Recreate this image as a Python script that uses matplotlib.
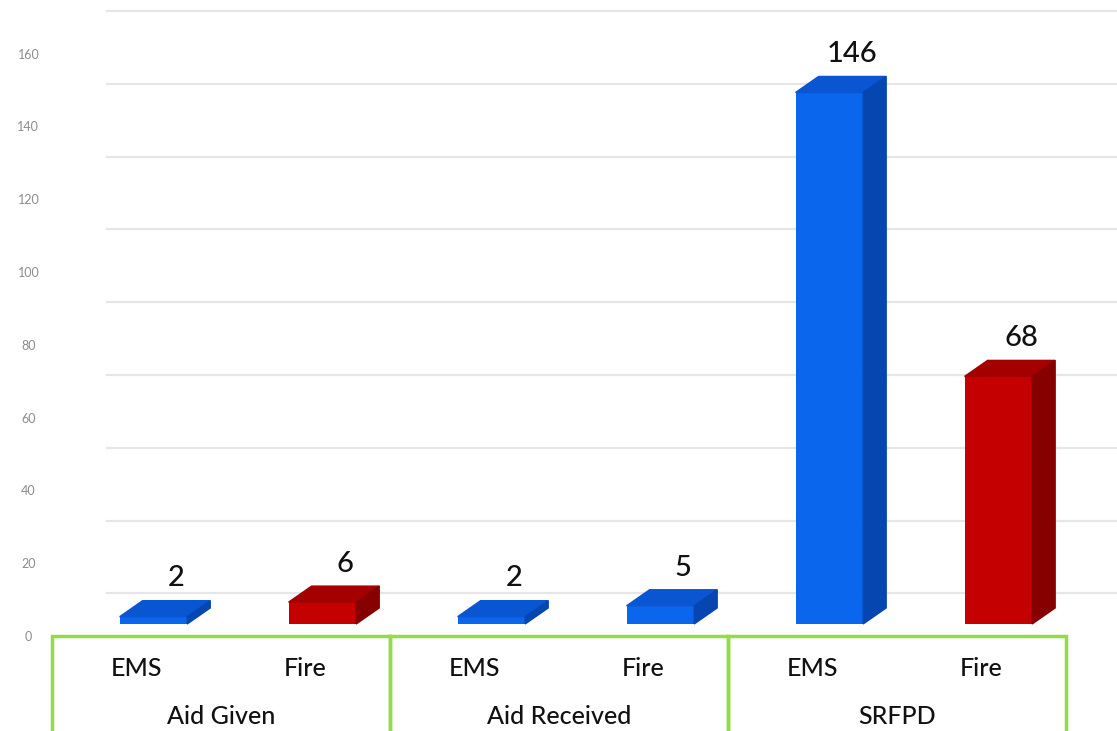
import matplotlib.pyplot as plt
from matplotlib.patches import Polygon, Rectangle

# Call counts by group and call type
groups = ["Aid Given", "Aid Received", "SRFPD"]
call_types = ["EMS", "Fire", "EMS", "Fire", "EMS", "Fire"]
counts = [2, 6, 2, 5, 146, 68]
bar_colors = ["blue", "red", "blue", "blue", "blue", "red"]
y_ticks = [0, 20, 40, 60, 80, 100, 120, 140, 160]

# front / top / side shades for the fake 3D look
shades = {
    "blue": ("#0a66ec", "#0a55d2", "#0646b0"),
    "red": ("#c40000", "#a50000", "#860000"),
}

plt.rcParams["font.family"] = ["Lato", "DejaVu Sans"]

fig = plt.figure(figsize=(11.17, 7.31), dpi=100)
ax = fig.add_axes([0, 0, 1, 1])
ax.set_xlim(-0.808, 5.802)
ax.set_ylim(-29.4, 171.4)
ax.axis("off")

dx, dy = 0.136, 4.4      # depth of the bars
wall = 8.4               # back wall offset for the gridlines
green = "#93dc46"

# gridlines on the back wall
for v in y_ticks:
    ax.plot([-0.175, 5.802], [v + wall, v + wall], color="#e6e6e6", lw=1.6, zorder=0)
    ax.text(-0.64, v - 3.6, str(v), ha="center", va="center",
            fontsize=9, color="#8c8c8c")

for i, (val, col) in enumerate(zip(counts, bar_colors)):
    front, top, side = shades[col]
    x0, x1 = i - 0.1, i + 0.3
    ax.bar(i + 0.1, val, width=0.4, color=front, zorder=3)
    ax.add_patch(Polygon([(x0, val), (x1, val), (x1 + dx, val + dy), (x0 + dx, val + dy)],
                         closed=True, color=top, zorder=3))
    ax.add_patch(Polygon([(x1, 0), (x1 + dx, dy), (x1 + dx, val + dy), (x1, val)],
                         closed=True, color=side, zorder=3))
    ax.annotate(str(val), (i + 0.1 + dx, val + dy), xytext=(0, 16),
                textcoords="offset points", ha="center", va="center",
                fontsize=21, color="#111111", fontweight="medium")
    ax.text(i, -12.1, call_types[i], ha="center", va="center", fontsize=18,
            color="#111111", fontweight="medium")

# group boxes under the axis
for g, name in enumerate(groups):
    left = 2 * g - 0.5
    ax.add_patch(Rectangle((left, -40), 2, 40 - 3.3, fill=False,
                           edgecolor=green, lw=2.5, zorder=2))
    ax.text(left + 1, -25.5, name, ha="center", va="center", fontsize=18,
            color="#111111", fontweight="medium")

fig.savefig("out.png", dpi=100)
